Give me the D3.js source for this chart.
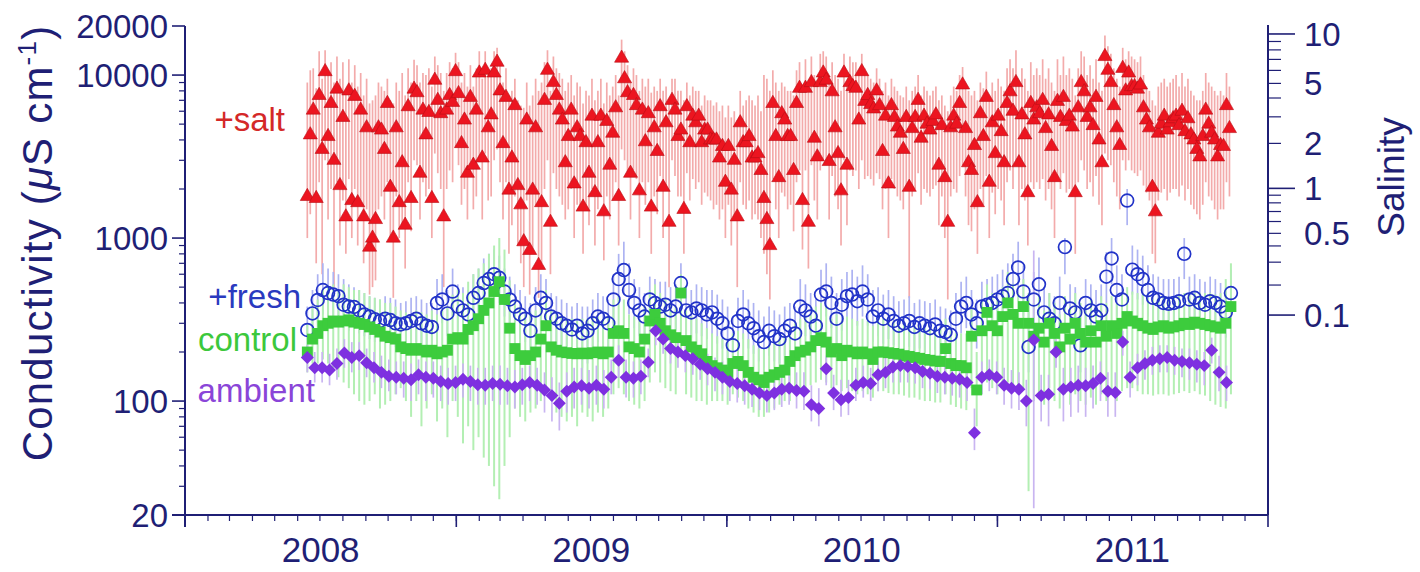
<!DOCTYPE html>
<html>
<head>
<meta charset="utf-8">
<script src="https://cdn.jsdelivr.net/npm/d3@7"></script>
<style>
  body { margin: 0; background: #fff; }
  svg { display: block; font-family: "Liberation Sans", Arial, Helvetica, sans-serif; }
</style>
</head>
<body>
<svg id="chart" width="1420" height="572"></svg>
<script>
// sampling: every series starts mid-June 2008, fixed day step
var seriesStart = Date.UTC(2008, 5, 14);
var saltStepDays = 4;
var freshStepDays = 7;
var controlStepDays = 7;
var ambientStepDays = 10;

// +salt conductivity (uS/cm) and range of the day
var saltValue = [
  1800, 4300, 6100, 1750, 7500, 3500, 10500, 4200, 6700, 3000,
  8200, 2100, 5500, 1350, 8000, 1700, 7400, 1650, 6100, 1350,
  4750, 880, 1000, 1300, 4750, 4600, 3500, 6700, 2050, 1000,
  4750, 1650, 2900, 1200, 6400, 1750, 8200, 7800, 2500, 6100,
  4300, 5900, 1750, 9300, 7000, 5800, 1350, 6100, 7500, 6800,
  10500, 7700, 3800, 5300, 2500, 7300, 2800, 6100, 10300, 3100,
  10700, 4750, 5700, 10300, 12000, 8000, 3800, 7300, 1970, 3100,
  6500, 2100, 1600, 950, 5300, 840, 1970, 4750, 680, 1650,
  7000, 10700, 1250, 9000, 7500, 6100, 5300, 2900, 4200, 6100,
  2150, 4750, 4200, 1550, 3850, 2500, 5600, 1900, 3850, 5600,
  1450, 5200, 2800, 4400, 6300, 1800, 12700, 9500, 7800, 2500,
  7500, 6500, 1950, 6100, 3900, 5800, 1550, 4750, 3400, 6400,
  2050, 5100, 1250, 7000, 6100, 4200, 4600, 1500, 6400, 3850,
  5600, 5100, 5600, 3850, 4600, 4600, 4000, 4000, 4000, 3100,
  3650, 2200, 3650, 1970, 3000, 1350, 5100, 3850, 3850, 4200,
  3100, 3100, 3300, 2600, 1750, 1300, 900, 6700, 4200, 2350,
  5800, 5300, 4200, 4200, 2600, 6700, 8300, 1700, 8300, 1250,
  9000, 4100, 3150, 9000, 10300, 9300, 2950, 7900, 4750, 3300,
  1950, 10300, 2800, 9000, 8500, 8300, 5300, 10500, 6900, 7500,
  6600, 6200, 8000, 6500, 3400, 5600, 2150, 6500, 5500, 4800,
  4400, 3500, 5500, 2050, 4700, 5500, 7000, 4100, 5600, 5000,
  4600, 5200, 5700, 2800, 4900, 2350, 1250, 4750, 5600, 5000,
  6700, 8700, 4700, 2900, 2600, 3700, 1650, 5800, 4200, 7300,
  2200, 5100, 3300, 5600, 4500, 2900, 6700, 7900, 6000, 9000,
  2900, 5700, 4300, 1900, 6700, 5300, 6300, 5800, 7000, 4700,
  5700, 3650, 2350, 6900, 5500, 7300, 5200, 5600, 4800, 1900,
  6300, 9000, 7900, 5500, 6300, 4900, 7300, 4000, 2900, 13000,
  10700, 9000, 6500, 4750, 3700, 11000, 8000, 10300, 8500, 8500,
  8200, 8700, 6300, 5300, 4750, 2050, 1450, 4400, 5000, 5600,
  4600, 5100, 5400, 5600, 4900, 6000, 4500, 5400, 4300, 4000,
  3500, 3150, 4200, 6100, 5000, 4400, 4000, 3150, 3700, 3650,
  6500, 4700
];
var saltHi = [
  9000, 10700, 11000, 8300, 14000, 9500, 14200, 10000, 12000, 9000,
  13000, 9500, 12000, 8000, 12500, 9000, 11500, 8500, 10300, 7500,
  9500, 6700, 7000, 7500, 9000, 8500, 8000, 9500, 7000, 6700,
  9000, 8000, 10300, 7500, 11000, 9000, 12400, 11500, 9000, 10300,
  10000, 11000, 8500, 13000, 11500, 10300, 8000, 10300, 12000, 11000,
  13700, 12000, 9000, 10300, 8500, 11500, 8500, 11000, 14000, 9500,
  14000, 10300, 11000, 14000, 14700, 12000, 9000, 11000, 7500, 8000,
  9500, 7000, 6500, 6300, 9000, 6500, 7500, 9500, 8000, 9000,
  12000, 14200, 8000, 13000, 11000, 10300, 9500, 8000, 9000, 10000,
  7500, 9000, 8500, 6700, 8000, 7500, 9500, 7000, 8000, 9500,
  6700, 9000, 7500, 8500, 10000, 7500, 16500, 14000, 11500, 9000,
  11000, 10000, 8000, 9500, 8500, 9500, 7800, 8500, 8000, 9500,
  8000, 8500, 7000, 9500, 9500, 8000, 8000, 7000, 9000, 7500,
  8500, 8000, 8000, 6500, 7500, 7000, 7000, 6500, 6800, 6000,
  6500, 5500, 6500, 5500, 6000, 5300, 8000, 6500, 7000, 7500,
  7000, 6500, 7500, 6000, 10000, 9500, 8000, 10700, 9000, 8000,
  9000, 8500, 8000, 8000, 7500, 10700, 12000, 8000, 12500, 8500,
  13000, 10000, 9000, 13500, 14000, 13000, 9000, 12000, 10000, 9500,
  8000, 13500, 9000, 13000, 12000, 12000, 10000, 13500, 11000, 10000,
  9500, 9000, 11000, 9500, 8000, 9000, 7500, 9500, 8500, 8000,
  7500, 7300, 8500, 7000, 8000, 8500, 10000, 7500, 8500, 8000,
  7500, 8000, 8500, 7000, 7500, 6500, 6000, 7500, 8500, 8000,
  10000, 11200, 8500, 8000, 7500, 8000, 7000, 9000, 8300, 10500,
  7500, 9000, 8000, 9500, 8500, 8000, 11000, 12500, 11000, 14200,
  9000, 11000, 9500, 8000, 12000, 10000, 11000, 10000, 12500, 9500,
  11000, 9000, 8000, 12500, 10000, 13000, 10000, 11000, 9500, 7500,
  11000, 14000, 13000, 10000, 11500, 9500, 12500, 9000, 8000, 17500,
  15000, 13500, 11000, 9500, 8500, 14700, 12500, 14000, 13000, 12500,
  12000, 13000, 10000, 8500, 8000, 7000, 6500, 8500, 9000, 9500,
  8500, 9000, 9500, 10000, 8500, 10300, 8500, 9500, 8000, 7500,
  7000, 7000, 8000, 10300, 9000, 8500, 8000, 7500, 8000, 7500,
  10300, 8500
];
var saltLo = [
  1000, 1400, 1800, 700, 2200, 600, 3000, 1300, 2000, 450,
  2200, 900, 1700, 800, 2300, 1000, 2000, 900, 1600, 700,
  1500, 450, 500, 550, 1500, 1800, 1300, 2200, 1000, 430,
  1800, 1000, 1200, 650, 2200, 1100, 3000, 2800, 1300, 2200,
  1800, 2000, 1000, 3300, 2500, 2000, 500, 2000, 2600, 2200,
  3600, 2800, 1600, 2000, 1300, 2500, 1500, 1800, 3000, 1300,
  3300, 1700, 1800, 3000, 3500, 2200, 1300, 2200, 800, 1200,
  1800, 900, 700, 500, 1700, 450, 850, 1600, 430, 700,
  2000, 3000, 600, 2500, 2000, 1800, 1600, 1300, 1500, 2000,
  1000, 1600, 1500, 800, 1500, 1200, 2000, 900, 1500, 1800,
  730, 1800, 1300, 1700, 2200, 900, 3500, 3000, 2500, 1300,
  2600, 2300, 1000, 2200, 1600, 2200, 800, 1800, 1400, 2400,
  1000, 2000, 500, 3000, 2400, 1800, 1800, 800, 2500, 1700,
  2300, 2000, 2200, 1600, 1900, 1800, 1700, 1500, 1600, 1300,
  1500, 1000, 1600, 900, 1300, 500, 2200, 1600, 1500, 1700,
  1300, 1400, 1300, 1000, 800, 600, 420, 2300, 1500, 1000,
  1900, 1800, 1500, 1600, 1100, 2200, 2600, 850, 2600, 650,
  2800, 1700, 1300, 2600, 3000, 2800, 1300, 2400, 1800, 1500,
  900, 3000, 1200, 2600, 2400, 2600, 2000, 3000, 2300, 2400,
  2300, 2100, 2500, 2300, 1500, 2000, 1000, 2300, 2000, 1800,
  1700, 1500, 2100, 430, 1800, 2000, 2500, 1600, 2000, 1900,
  1800, 2000, 2100, 1200, 1800, 1000, 420, 1800, 2000, 1900,
  2400, 2800, 1800, 1200, 1100, 1500, 800, 2000, 1600, 2400,
  1000, 1900, 1400, 2000, 1700, 1200, 2200, 2600, 2000, 3000,
  1200, 2000, 1700, 900, 2200, 2000, 2200, 2000, 2300, 1700,
  2000, 1500, 1000, 2300, 2000, 2500, 1900, 2000, 1800, 800,
  2200, 3000, 2600, 2000, 2200, 1800, 2400, 1600, 1200, 3300,
  3000, 2800, 2200, 1800, 1500, 3000, 2600, 3000, 2600, 2500,
  2400, 2600, 2100, 1900, 1700, 800, 700, 1700, 1900, 2000,
  1700, 1900, 2000, 2000, 1800, 2100, 1700, 2000, 1600, 1500,
  1400, 1300, 1600, 2200, 1800, 1700, 1500, 1300, 1500, 1500,
  2200, 1800
];

// +fresh
var freshValue = [
  273, 345, 417, 480, 460, 450, 440, 390, 380, 378,
  360, 340, 330, 318, 310, 320, 314, 300, 295, 300,
  310, 320, 300, 290, 285, 400, 420, 345, 470, 380,
  360, 340, 430, 460, 530, 560, 600, 570, 470, 420,
  380, 340, 320, 270, 360, 430, 400, 330, 320, 300,
  290, 275, 290, 260, 270, 300, 330, 320, 300, 420,
  560, 636, 480, 400, 360, 330, 420, 400, 380, 390,
  360, 380, 530, 360, 350, 370, 360, 340, 350, 320,
  300, 260, 220, 310, 340, 300, 280, 250, 230, 270,
  250, 240, 270, 290, 260, 380, 360, 330, 290, 450,
  470, 400, 320, 390, 440, 450, 410, 470, 420, 330,
  360, 320, 340, 310, 290, 300, 310, 285, 300, 290,
  280, 295, 270, 265, 255, 320, 380, 400, 340, 300,
  380, 390, 400, 420, 440, 460, 560, 660, 470, 215,
  420, 520, 350, 320, 300, 400, 880, 370, 350, 220,
  400, 360, 330, 360, 580, 750, 480, 420, 1700, 640,
  600, 560, 480, 430, 420, 400, 395, 400, 410, 800,
  420, 430, 400, 390, 410, 400, 380, 350, 460
];
var freshHi = [
  380, 480, 600, 700, 650, 620, 600, 560, 520, 500,
  480, 460, 440, 430, 420, 440, 430, 420, 400, 410,
  430, 440, 420, 400, 400, 560, 600, 480, 650, 520,
  500, 480, 600, 650, 750, 800, 850, 780, 650, 580,
  520, 480, 440, 400, 500, 600, 560, 460, 440, 420,
  400, 380, 400, 380, 380, 420, 460, 440, 420, 600,
  800, 950, 700, 560, 500, 460, 580, 560, 540, 540,
  500, 520, 700, 500, 480, 520, 500, 480, 480, 450,
  420, 380, 330, 430, 480, 420, 400, 360, 330, 380,
  360, 340, 380, 400, 380, 560, 520, 460, 420, 640,
  700, 580, 460, 560, 620, 640, 580, 680, 600, 480,
  500, 450, 480, 440, 410, 420, 440, 400, 420, 410,
  400, 420, 380, 370, 360, 460, 540, 580, 480, 420,
  540, 560, 580, 600, 640, 700, 800, 950, 680, 400,
  620, 760, 500, 460, 440, 580, 1000, 520, 500, 380,
  560, 520, 480, 520, 820, 1000, 680, 600, 2000, 900,
  850, 780, 680, 600, 580, 560, 560, 560, 580, 1000,
  580, 600, 560, 540, 580, 560, 530, 500, 640
];
var freshLo = [
  200, 250, 300, 340, 330, 320, 310, 280, 270, 270,
  260, 250, 240, 230, 225, 230, 225, 215, 210, 215,
  220, 230, 215, 210, 205, 290, 300, 250, 330, 270,
  260, 240, 300, 320, 370, 390, 420, 400, 330, 300,
  270, 240, 230, 190, 250, 300, 280, 230, 220, 200,
  190, 170, 190, 160, 170, 210, 230, 225, 210, 300,
  400, 450, 340, 280, 250, 230, 300, 280, 270, 270,
  250, 270, 370, 250, 245, 260, 250, 240, 245, 225,
  210, 180, 160, 220, 240, 210, 195, 175, 160, 190,
  175, 170, 190, 200, 180, 270, 250, 230, 200, 320,
  330, 280, 225, 270, 310, 315, 290, 330, 290, 230,
  250, 225, 240, 220, 200, 210, 215, 200, 210, 200,
  195, 205, 190, 185, 180, 225, 260, 280, 240, 210,
  260, 270, 280, 290, 310, 320, 390, 460, 330, 150,
  290, 360, 240, 220, 200, 280, 600, 250, 240, 150,
  270, 250, 230, 250, 400, 520, 330, 290, 1200, 450,
  420, 390, 330, 300, 290, 280, 275, 280, 285, 560,
  290, 300, 280, 270, 285, 280, 265, 245, 320
];

// control
var controlValue = [
  200, 240, 260, 290, 300, 310, 305, 310, 315, 305,
  300, 295, 285, 275, 265, 250, 245, 240, 215, 210,
  205, 210, 205, 200, 205, 195, 200, 205, 240, 245,
  240, 275, 290, 320, 360, 400, 470, 540, 420, 280,
  210, 190, 180, 190, 200, 240, 290, 215, 205, 200,
  198, 196, 195, 197, 195, 198, 200, 195, 200, 260,
  270, 260, 215, 210, 200, 240, 310, 340, 300, 270,
  255, 245, 460, 235, 215, 205, 195, 175, 165, 160,
  155, 150, 170, 175, 165, 150, 140, 135, 130, 140,
  145, 150, 155, 175, 190, 200, 205, 215, 235, 245,
  230, 200, 210, 190, 205, 200, 195, 200, 195, 180,
  200, 200, 198, 196, 194, 190, 188, 185, 183, 180,
  178, 176, 175, 210, 170, 165, 165, 160, 250, 117,
  270, 350, 290, 270, 330, 400, 340, 300, 380, 300,
  250, 280, 230, 300, 260, 215, 280, 240, 300, 260,
  230, 270, 230, 290, 250, 290, 260, 300, 330, 310,
  300, 290, 280, 275, 285, 290, 280, 285, 290, 300,
  295, 305, 300, 295, 290, 285, 280, 300, 380
];
var controlHi = [
  300, 380, 420, 480, 500, 520, 480, 520, 500, 480,
  480, 460, 440, 430, 420, 400, 400, 380, 360, 350,
  340, 360, 350, 340, 360, 340, 360, 380, 450, 480,
  460, 540, 600, 650, 700, 800, 900, 1000, 850, 550,
  420, 380, 340, 350, 360, 400, 480, 360, 340, 330,
  320, 320, 310, 320, 320, 330, 330, 320, 330, 420,
  440, 420, 340, 330, 320, 380, 480, 520, 460, 420,
  400, 380, 600, 360, 330, 320, 300, 280, 260, 250,
  240, 230, 260, 270, 260, 240, 220, 210, 210, 220,
  230, 240, 250, 280, 300, 320, 330, 340, 380, 400,
  380, 320, 340, 310, 330, 320, 310, 320, 310, 290,
  320, 320, 310, 310, 300, 300, 300, 290, 290, 280,
  280, 280, 280, 320, 270, 260, 260, 260, 380, 200,
  420, 520, 460, 420, 500, 620, 520, 460, 560, 460,
  400, 440, 360, 460, 400, 340, 440, 380, 460, 400,
  360, 420, 360, 440, 400, 440, 400, 460, 500, 470,
  460, 450, 430, 420, 430, 440, 430, 440, 440, 460,
  450, 460, 460, 460, 460, 450, 460, 560, 700
];
var controlLo = [
  150, 170, 170, 180, 170, 160, 140, 130, 120, 110,
  100, 95, 100, 110, 90, 95, 100, 110, 120, 100,
  80, 100, 70, 90, 110, 75, 90, 60, 100, 80,
  55, 70, 50, 60, 45, 40, 30, 25, 40, 60,
  90, 80, 75, 85, 90, 100, 120, 100, 85, 80,
  75, 80, 70, 85, 80, 75, 85, 80, 90, 110,
  120, 110, 100, 95, 90, 100, 130, 150, 130, 120,
  115, 110, 200, 110, 105, 100, 100, 95, 100, 100,
  100, 95, 110, 105, 100, 90, 85, 80, 80, 85,
  90, 95, 100, 100, 110, 115, 120, 125, 130, 135,
  130, 120, 125, 115, 120, 115, 110, 115, 110, 105,
  115, 115, 112, 110, 110, 108, 105, 105, 102, 100,
  100, 98, 98, 110, 95, 92, 90, 88, 120, 70,
  110, 130, 120, 110, 120, 130, 120, 110, 120, 28,
  100, 110, 95, 120, 100, 90, 110, 95, 110, 100,
  95, 105, 95, 110, 100, 110, 100, 115, 120, 120,
  115, 110, 110, 108, 110, 110, 108, 110, 112, 115,
  112, 115, 110, 108, 100, 95, 92, 90, 110
];

// ambient
var ambientValue = [
  185, 160, 160, 155, 170, 197, 185, 190, 172, 160,
  150, 142, 140, 138, 135, 145, 140, 138, 132, 128,
  130, 136, 132, 126, 125, 128, 127, 124, 122, 126,
  130, 125, 117, 108, 97, 115, 122, 124, 120, 125,
  118, 140, 178, 140, 138, 142, 173, 270, 240, 210,
  200, 190, 182, 168, 158, 150, 140, 132, 128, 124,
  118, 112, 108, 112, 118, 120, 116, 115, 95, 90,
  158, 112, 102, 105, 125, 130, 128, 145, 150, 162,
  165, 163, 160, 152, 148, 142, 140, 138, 136, 130,
  64, 140, 145, 140, 125, 120, 118, 100, 237, 108,
  110, 200, 118, 122, 125, 124, 128, 138, 115, 113,
  230, 140, 160, 170, 178, 182, 185, 178, 175, 172,
  168, 165, 205, 150, 130
];
var ambientHi = [
  220, 200, 200, 195, 210, 240, 230, 230, 210, 200,
  190, 180, 175, 175, 170, 180, 175, 175, 165, 160,
  165, 170, 165, 160, 160, 165, 165, 160, 155, 160,
  165, 160, 150, 140, 130, 150, 160, 160, 155, 165,
  155, 180, 220, 180, 175, 180, 210, 320, 290, 255,
  240, 230, 220, 205, 195, 185, 175, 165, 160, 155,
  150, 145, 140, 145, 150, 155, 150, 150, 125, 120,
  190, 145, 135, 135, 160, 165, 160, 175, 185, 195,
  200, 195, 190, 185, 180, 175, 170, 170, 165, 165,
  90, 175, 180, 175, 160, 155, 150, 135, 840, 145,
  145, 240, 160, 160, 165, 160, 165, 175, 150, 150,
  270, 175, 195, 205, 215, 220, 220, 215, 210, 210,
  205, 200, 245, 190, 165
];
var ambientLo = [
  150, 130, 130, 125, 135, 160, 150, 155, 140, 130,
  120, 115, 110, 105, 100, 110, 100, 105, 100, 95,
  100, 105, 100, 95, 95, 100, 95, 95, 90, 95,
  100, 95, 85, 75, 66, 85, 90, 95, 90, 95,
  90, 110, 140, 105, 105, 110, 140, 220, 195, 170,
  160, 150, 145, 135, 125, 115, 110, 100, 98, 95,
  92, 88, 85, 88, 92, 95, 90, 88, 75, 70,
  125, 88, 80, 82, 100, 105, 100, 115, 120, 130,
  130, 130, 128, 120, 118, 112, 110, 108, 105, 100,
  50, 110, 115, 110, 95, 90, 88, 70, 22, 75,
  70, 160, 75, 80, 85, 80, 90, 100, 80, 80,
  190, 105, 125, 135, 145, 150, 150, 145, 140, 135,
  130, 125, 170, 115, 100
];

// axes
var condMajor = [20, 100, 1000, 10000, 20000];
var condMinor = [30, 40, 50, 60, 70, 80, 90, 200, 300, 400, 500, 600, 700, 800, 900,
                 2000, 3000, 4000, 5000, 6000, 7000, 8000, 9000];
// salinity scale, with the conductivity it sits at
var salinityKnots = [0.1, 0.2, 0.5, 1, 2, 5, 10];
var salinityCond = [337, 515, 1069, 2018, 3810, 8890, 17870];
var salinityLabels = [0.1, 0.5, 1, 2, 5, 10];
var salinityLong = [0.1, 1, 10];
var salinityMinor = [0.2, 0.3, 0.4, 0.5, 0.6, 0.7, 0.8, 0.9, 2, 3, 4, 5, 6, 7, 8, 9];
var yearLabels = [2008, 2009, 2010, 2011];

var navy = '#1f1f75';
var svg = d3.select('#chart');

var x = d3.scaleUtc()
    .domain([Date.UTC(2008, 0, 1), Date.UTC(2012, 0, 1)])
    .range([185, 1268]);
var y = d3.scaleLog().domain([20, 20000]).range([515, 26]);
var ySal = d3.scaleLog()
    .domain(salinityKnots)
    .range(salinityCond.map(function(c) { return y(c); }));

function rows(values, hi, lo, step) {
    return values.map(function(v, i) {
        return {
            date: d3.utcDay.offset(new Date(seriesStart), i * step),
            v: v, hi: hi[i], lo: lo[i]
        };
    });
}

var series = [
    {key: 'salt', data: rows(saltValue, saltHi, saltLo, saltStepDays), bar: '#f3abab', barW: 1.7},
    {key: 'fresh', data: rows(freshValue, freshHi, freshLo, freshStepDays), bar: '#adb3f2', barW: 1.7},
    {key: 'control', data: rows(controlValue, controlHi, controlLo, controlStepDays), bar: '#b3efb3', barW: 2},
    {key: 'ambient', data: rows(ambientValue, ambientHi, ambientLo, ambientStepDays), bar: '#c9b5f1', barW: 1.7}
];

var plot = svg.append('g').attr('class', 'plot');

// range bars underneath all markers
series.forEach(function(s) {
    plot.append('g').attr('class', 'bars ' + s.key)
        .selectAll('line')
        .data(s.data)
        .enter().append('line')
        .attr('x1', function(d) { return x(d.date); })
        .attr('x2', function(d) { return x(d.date); })
        .attr('y1', function(d) { return y(d.hi); })
        .attr('y2', function(d) { return y(d.lo); })
        .attr('stroke', s.bar)
        .attr('stroke-width', s.barW);
});

function place(d) { return 'translate(' + x(d.date) + ',' + y(d.v) + ')'; }

plot.append('g').attr('class', 'marks salt')
    .selectAll('path')
    .data(series[0].data)
    .enter().append('path')
    .attr('d', d3.symbol(d3.symbolTriangle, 86))
    .attr('transform', place)
    .attr('fill', '#ec1520')
    .attr('stroke', '#b80d14')
    .attr('stroke-width', 0.6);

plot.append('g').attr('class', 'marks fresh')
    .selectAll('circle')
    .data(series[1].data)
    .enter().append('circle')
    .attr('cx', function(d) { return x(d.date); })
    .attr('cy', function(d) { return y(d.v); })
    .attr('r', 6.4)
    .attr('fill', 'none')
    .attr('stroke', '#2233c8')
    .attr('stroke-width', 1.7);

plot.append('g').attr('class', 'marks control')
    .selectAll('path')
    .data(series[2].data)
    .enter().append('path')
    .attr('d', d3.symbol(d3.symbolSquare, 118))
    .attr('transform', place)
    .attr('fill', '#3dcc3d');

plot.append('g').attr('class', 'marks ambient')
    .selectAll('path')
    .data(series[3].data)
    .enter().append('path')
    .attr('d', d3.symbol(d3.symbolSquare, 84))
    .attr('transform', function(d) { return place(d) + ' rotate(45)'; })
    .attr('fill', '#7e30e0');

// series labels
var labels = [
    {text: '+salt', x: 285, y: 131, color: '#d42828'},
    {text: '+fresh', x: 301, y: 308, color: '#2a3abf'},
    {text: 'control', x: 297, y: 351, color: '#3cc83c'},
    {text: 'ambient', x: 315, y: 402, color: '#8a45d8'}
];
svg.append('g').selectAll('text')
    .data(labels)
    .enter().append('text')
    .attr('x', function(d) { return d.x; })
    .attr('y', function(d) { return d.y; })
    .attr('text-anchor', 'end')
    .attr('font-size', 33)
    .attr('fill', function(d) { return d.color; })
    .text(function(d) { return d.text; });

// axes
var axes = svg.append('g').attr('class', 'axes')
    .attr('stroke', navy).attr('fill', navy);

// left
axes.append('line').attr('x1', 185).attr('x2', 185).attr('y1', 26).attr('y2', 527).attr('stroke-width', 2);
axes.selectAll('line.lmaj').data(condMajor).enter().append('line')
    .attr('class', 'lmaj')
    .attr('x1', 172).attr('x2', 185)
    .attr('y1', y).attr('y2', y)
    .attr('stroke-width', 1.6);
axes.selectAll('line.lmin').data(condMinor).enter().append('line')
    .attr('class', 'lmin')
    .attr('x1', 179).attr('x2', 185)
    .attr('y1', y).attr('y2', y)
    .attr('stroke-width', 1.2);
axes.selectAll('text.ltick').data(condMajor).enter().append('text')
    .attr('class', 'ltick')
    .attr('x', 168).attr('y', y)
    .attr('dy', '0.36em')
    .attr('text-anchor', 'end')
    .attr('stroke', 'none')
    .attr('font-size', 33)
    .text(function(d) { return d; });

// bottom
axes.append('line').attr('x1', 172).attr('x2', 1268).attr('y1', 515).attr('y2', 515).attr('stroke-width', 2);
var years = d3.utcYear.range(new Date(Date.UTC(2008, 0, 1)), new Date(Date.UTC(2012, 0, 2)));
var months = d3.utcMonth.range(new Date(Date.UTC(2008, 0, 1)), new Date(Date.UTC(2012, 0, 1)));
axes.selectAll('line.bmin').data(months).enter().append('line')
    .attr('class', 'bmin')
    .attr('x1', x).attr('x2', x)
    .attr('y1', 515).attr('y2', 521)
    .attr('stroke-width', 1.2);
axes.selectAll('line.bmaj').data(years).enter().append('line')
    .attr('class', 'bmaj')
    .attr('x1', x).attr('x2', x)
    .attr('y1', 515).attr('y2', 527)
    .attr('stroke-width', 1.6);
axes.selectAll('text.year').data(yearLabels).enter().append('text')
    .attr('class', 'year')
    .attr('x', function(d) { return x(new Date(Date.UTC(d, 6, 2))); })
    .attr('y', 562)
    .attr('text-anchor', 'middle')
    .attr('stroke', 'none')
    .attr('font-size', 35)
    .text(function(d) { return d; });

// right (salinity)
axes.append('line').attr('x1', 1268).attr('x2', 1268).attr('y1', 25).attr('y2', 515).attr('stroke-width', 2);
axes.selectAll('line.rmin').data(salinityMinor).enter().append('line')
    .attr('class', 'rmin')
    .attr('x1', 1268).attr('x2', 1281)
    .attr('y1', ySal).attr('y2', ySal)
    .attr('stroke-width', 1.2);
axes.selectAll('line.rmaj').data(salinityLong).enter().append('line')
    .attr('class', 'rmaj')
    .attr('x1', 1268).attr('x2', 1295)
    .attr('y1', ySal).attr('y2', ySal)
    .attr('stroke-width', 1.6);
axes.selectAll('text.rtick').data(salinityLabels).enter().append('text')
    .attr('class', 'rtick')
    .attr('x', 1304).attr('y', ySal)
    .attr('dy', '0.36em')
    .attr('stroke', 'none')
    .attr('font-size', 33)
    .text(function(d) { return d; });

// titles
var ytitle = axes.append('text')
    .attr('transform', 'translate(52,243) rotate(-90)')
    .attr('text-anchor', 'middle')
    .attr('stroke', 'none')
    .attr('font-size', 42)
    .attr('letter-spacing', 1.2);
ytitle.append('tspan').text('Conductivity (');
ytitle.append('tspan').attr('font-style', 'italic').text('\u03bc');
ytitle.append('tspan').text('S cm');
ytitle.append('tspan').attr('font-size', 26).attr('dy', -16).text('-1');
ytitle.append('tspan').attr('dy', 16).text(')');

axes.append('text')
    .attr('transform', 'translate(1404,177) rotate(-90)')
    .attr('text-anchor', 'middle')
    .attr('stroke', 'none')
    .attr('font-size', 37)
    .text('Salinity');
</script>
</body>
</html>
